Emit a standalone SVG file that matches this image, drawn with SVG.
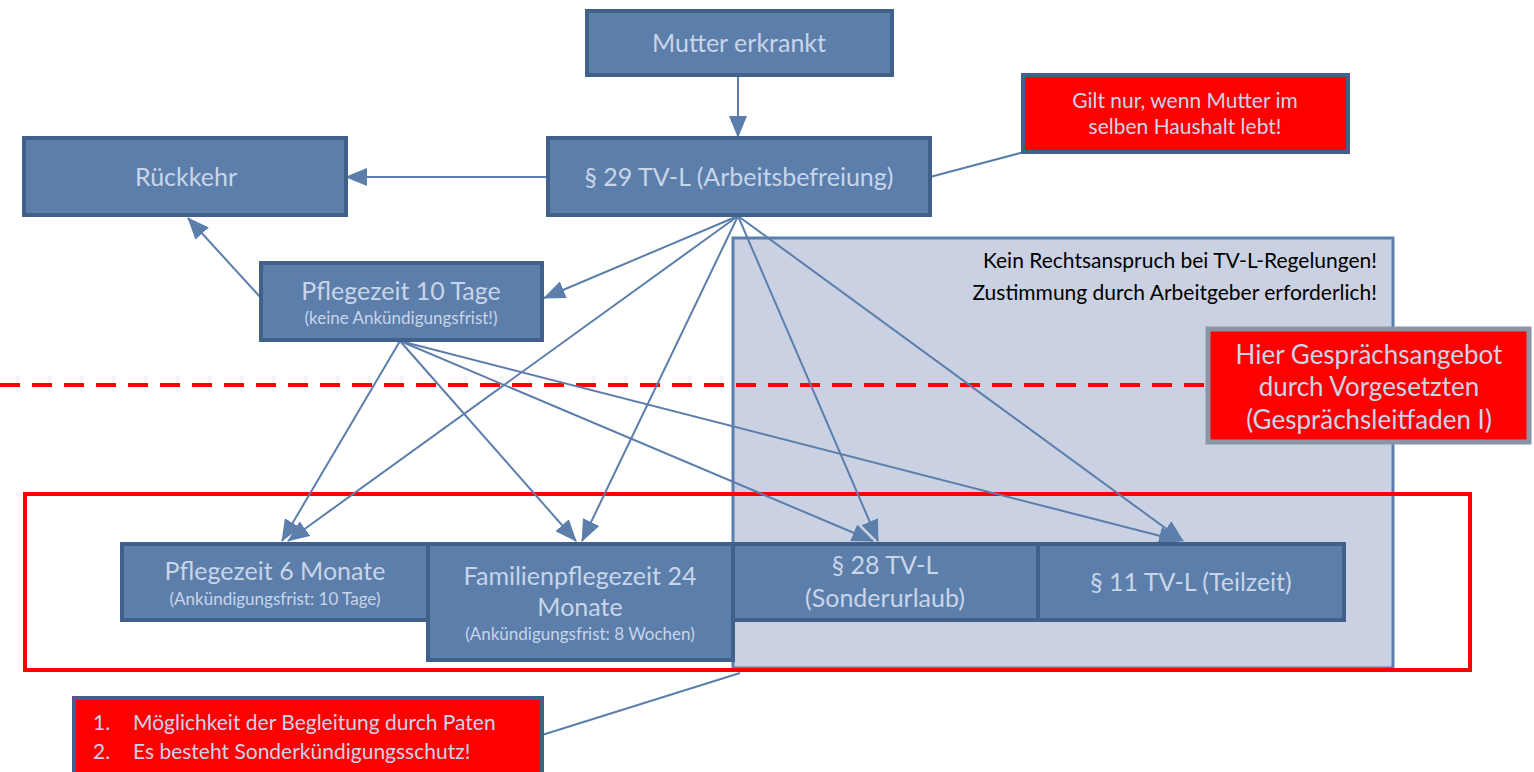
<svg xmlns="http://www.w3.org/2000/svg" width="1534" height="772" viewBox="0 0 1534 772">
<defs>
<style>
.box{fill:#5b7eab;stroke:#41618a;stroke-width:4}
.t{font-family:Lato,"Liberation Sans",sans-serif;fill:#c9d5e8;text-anchor:middle}
.red{fill:#ff0000;stroke:#41618a;stroke-width:4}
.c{stroke:#5b7eab;stroke-width:2;fill:none}
.ca{stroke:#5b7eab;stroke-width:2;fill:none;marker-end:url(#ah)}
</style>
<marker id="ah" markerUnits="userSpaceOnUse" markerWidth="22" markerHeight="18" viewBox="0 0 22 18" refX="21" refY="9" orient="auto">
<path d="M0,0 L22,9 L0,18 Z" fill="#5b7eab"/>
</marker>
</defs>
<rect width="1534" height="772" fill="#ffffff"/>
<g id="region">
<rect x="733" y="238" width="660" height="430" fill="#c9d1e2" stroke="#5b7eab" stroke-width="3"/>
<text x="1377" y="268" font-family="Lato,'Liberation Sans',sans-serif" font-size="21" fill="#000" text-anchor="end">Kein Rechtsanspruch bei TV-L-Regelungen!</text>
<text x="1377" y="300" font-family="Lato,'Liberation Sans',sans-serif" font-size="21" fill="#000" text-anchor="end">Zustimmung durch Arbeitgeber erforderlich!</text>
</g>
<line x1="0" y1="385" x2="1207" y2="385" stroke="#ff0000" stroke-width="4" stroke-dasharray="20,12"/>
<rect id="frame" x="25" y="494" width="1445" height="176" fill="none" stroke="#ff0000" stroke-width="4"/>
<g id="connectors">
<line class="ca" x1="738" y1="76" x2="738" y2="137"/>
<line class="ca" x1="547" y1="177" x2="346" y2="177"/>
<line class="ca" x1="261" y1="298" x2="188" y2="218"/>
<line class="c" x1="930" y1="177" x2="1024" y2="152"/>
<line class="ca" x1="738" y1="216" x2="544" y2="298"/>
<line class="ca" x1="738" y1="216" x2="288" y2="541"/>
<line class="ca" x1="738" y1="216" x2="582" y2="541"/>
<line class="ca" x1="738" y1="216" x2="878" y2="541"/>
<line class="ca" x1="738" y1="216" x2="1183" y2="541"/>
<line class="ca" x1="400" y1="341" x2="282" y2="541"/>
<line class="ca" x1="400" y1="341" x2="576" y2="541"/>
<line class="ca" x1="400" y1="341" x2="873" y2="541"/>
<line class="ca" x1="400" y1="341" x2="1180" y2="541"/>
<line class="c" x1="542" y1="735" x2="740" y2="673"/>
</g>
<g id="n-mutter"><rect class="box" x="587" y="11" width="305" height="64"/><text class="t" x="739" y="52" font-size="25">Mutter erkrankt</text></g>
<g id="n-p29"><rect class="box" x="548" y="138" width="382" height="77"/><text class="t" x="739" y="186" font-size="25">§ 29 TV-L (Arbeitsbefreiung)</text></g>
<g id="n-rueck"><rect class="box" x="24" y="138" width="322" height="77"/><text class="t" x="186" y="186" font-size="25">Rückkehr</text></g>
<g id="n-gilt"><rect class="red" x="1023" y="75" width="325" height="77"/><text class="t" x="1185" y="108" font-size="21">Gilt nur, wenn Mutter im</text><text class="t" x="1185" y="134" font-size="21">selben Haushalt lebt!</text></g>
<g id="n-p10"><rect class="box" x="261" y="263" width="281" height="77"/><text class="t" x="401" y="300" font-size="25">Pflegezeit 10 Tage</text><text class="t" x="401" y="324" font-size="17">(keine Ankündigungsfrist!)</text></g>
<g id="n-hier"><rect x="1208" y="329" width="321" height="113" fill="#ff0000" stroke="#8a96a6" stroke-width="5"/><text class="t" x="1369" y="364" font-size="26">Hier Gesprächsangebot</text><text class="t" x="1369" y="396" font-size="26">durch Vorgesetzten</text><text class="t" x="1369" y="429" font-size="26">(Gesprächsleitfaden I)</text></g>
<g id="n-p6m"><rect class="box" x="122" y="544" width="306" height="76"/><text class="t" x="275" y="580" font-size="25">Pflegezeit 6 Monate</text><text class="t" x="275" y="605" font-size="17">(Ankündigungsfrist: 10 Tage)</text></g>
<g id="n-fam"><rect class="box" x="428" y="544" width="305" height="116"/><text class="t" x="580" y="585" font-size="25">Familienpflegezeit 24</text><text class="t" x="580" y="616" font-size="25">Monate</text><text class="t" x="580" y="640" font-size="17">(Ankündigungsfrist: 8 Wochen)</text></g>
<g id="n-p28"><rect class="box" x="733" y="544" width="305" height="76"/><text class="t" x="885" y="574" font-size="25">§ 28 TV-L</text><text class="t" x="885" y="607" font-size="25">(Sonderurlaub)</text></g>
<g id="n-p11"><rect class="box" x="1038" y="544" width="306" height="76"/><text class="t" x="1191" y="591" font-size="25">§ 11 TV-L (Teilzeit)</text></g>
<g id="n-notes"><rect class="red" x="74" y="698" width="468" height="80"/>
<text class="t" x="93" y="730" font-size="21" style="text-anchor:start">1.</text><text class="t" x="133" y="730" font-size="21" style="text-anchor:start">Möglichkeit der Begleitung durch Paten</text>
<text class="t" x="93" y="759" font-size="21" style="text-anchor:start">2.</text><text class="t" x="133" y="759" font-size="21" style="text-anchor:start">Es besteht Sonderkündigungsschutz!</text></g>
</svg>
